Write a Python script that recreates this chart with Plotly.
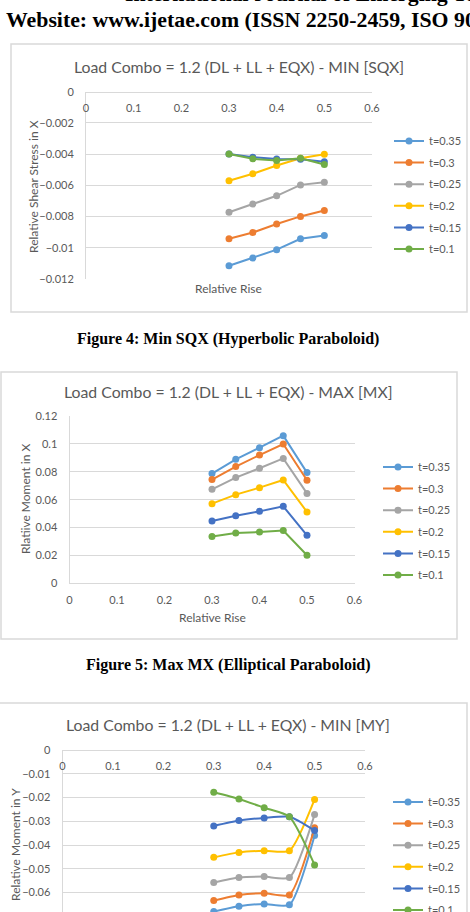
import plotly.graph_objects as go

# ---------------- data ----------------
x_rise = [0.3, 0.35, 0.4, 0.45, 0.5]
series_names = ["t=0.35", "t=0.3", "t=0.25", "t=0.2", "t=0.15", "t=0.1"]
series_colors = ["#5B9BD5", "#ED7D31", "#A5A5A5", "#FFC000", "#4472C4", "#70AD47"]

# Figure 4: Min SQX
sqx_values = [
    [-0.01115, -0.01066, -0.01012, -0.00942, -0.00921],
    [-0.00942, -0.00902, -0.00848, -0.00799, -0.00761],
    [-0.00772, -0.00720, -0.00667, -0.00597, -0.00580],
    [-0.00571, -0.00526, -0.00473, -0.00426, -0.00401],
    [-0.00399, -0.00420, -0.00431, -0.00433, -0.00448],
    [-0.00399, -0.00430, -0.00441, -0.00426, -0.00467],
]
# Figure 5: Max MX
mx_values = [
    [0.0787, 0.0889, 0.0973, 0.1059, 0.0794],
    [0.0744, 0.0837, 0.0920, 0.0999, 0.0739],
    [0.0674, 0.0758, 0.0825, 0.0896, 0.0645],
    [0.0571, 0.0636, 0.0686, 0.0741, 0.0512],
    [0.0447, 0.0485, 0.0516, 0.0552, 0.0344],
    [0.0335, 0.0361, 0.0368, 0.0378, 0.0201],
]
# Figure 6: Min MY
my_values = [
    [-0.0680, -0.0658, -0.0648, -0.0652, -0.0360],
    [-0.0634, -0.0610, -0.0603, -0.0610, -0.0327],
    [-0.0558, -0.0537, -0.0533, -0.0537, -0.0272],
    [-0.0452, -0.0431, -0.0424, -0.0424, -0.0208],
    [-0.0320, -0.0297, -0.0286, -0.0281, -0.0339],
    [-0.0178, -0.0206, -0.0243, -0.0281, -0.0484],
]

chart_titles = [
    "Load Combo = 1.2 (DL + LL + EQX) - MIN [SQX]",
    "Load Combo = 1.2 (DL + LL + EQX) - MAX [MX]",
    "Load Combo = 1.2 (DL + LL + EQX) - MIN [MY]",
]
y_titles = ["Relative Shear Stress in X", "Rlatiive Moment in X", "Relative Moment in Y"]
x_title = "Relative Rise"
captions = ["Figure 4: Min SQX (Hyperbolic Paraboloid)", "Figure 5: Max MX (Elliptical Paraboloid)"]

# ---------------- layout helpers ----------------
W, H = 470, 912


def px(v):
    return v / W


def py(v):
    return 1 - v / H


GRID = "#D9D9D9"
TXT = "#595959"
FONT = "Lato"

fig = go.Figure()

charts = [
    (sqx_values, "x", "y", "legend", "linear"),
    (mx_values, "x2", "y2", "legend2", "linear"),
    (my_values, "x3", "y3", "legend3", "spline"),
]
for ci, (vals, xa, ya, lg, shape) in enumerate(charts):
    for i, name in enumerate(series_names):
        fig.add_trace(go.Scatter(
            x=x_rise, y=vals[i], name=name, mode="lines+markers",
            line=dict(color=series_colors[i], width=2, shape=shape, smoothing=0.6),
            marker=dict(color=series_colors[i], size=7),
            xaxis=xa, yaxis=ya, legend=lg, legendgroup=f"{lg}_{i}",
            cliponaxis=False,
        ))

tickfont = dict(family=FONT, size=11, color=TXT)
common_x = dict(range=[0, 0.6], dtick=0.1, tick0=0, showgrid=False, zeroline=False,
                showline=True, linecolor=GRID, linewidth=1, ticks="", tickfont=tickfont,
                ticklabelstandoff=6, fixedrange=True)
common_y = dict(showgrid=True, gridcolor=GRID, gridwidth=1, zeroline=False,
                showline=True, linecolor=GRID, linewidth=1, ticks="", tickfont=tickfont,
                ticklabelstandoff=9, fixedrange=True)

legend_common = dict(bgcolor="rgba(0,0,0,0)", font=dict(family=FONT, size=11, color=TXT),
                     xanchor="left", yanchor="top", tracegroupgap=2.6, itemwidth=30)

fig.update_layout(
    width=W, height=H, margin=dict(l=0, r=0, t=0, b=0, autoexpand=False),
    paper_bgcolor="white", plot_bgcolor="white",
    showlegend=True,
    # chart 1
    xaxis=dict(domain=[px(86), px(372)], anchor="free", position=py(91.7), **common_x),
    yaxis=dict(domain=[py(279), py(91.7)], range=[-0.012, 0], dtick=0.002, anchor="x", **common_y),
    # chart 2
    xaxis2=dict(domain=[px(69.5), px(354.5)], anchor="y2", **common_x),
    yaxis2=dict(domain=[py(583.3), py(416)], range=[0, 0.12], dtick=0.02, anchor="x2", **common_y),
    # chart 3
    xaxis3=dict(domain=[px(62.5), px(365)], anchor="free", position=py(750), **common_x),
    yaxis3=dict(domain=[0, py(750)], range=[-0.0682, 0], dtick=0.01, anchor="x3", **common_y),
    legend=dict(x=px(389), y=py(126.5), **legend_common),
    legend2=dict(x=px(378), y=py(452.5), **legend_common),
    legend3=dict(x=px(388), y=py(787.5), **legend_common),
)

# chart frames
for (x0, y0, x1, y1) in [(11, 44, 467, 312), (1, 372, 457, 639), (-2, 703, 467, 930)]:
    fig.add_shape(type="rect", xref="paper", yref="paper",
                  x0=px(x0), x1=px(x1), y0=py(y1), y1=py(y0),
                  line=dict(color=GRID, width=1.5), layer="below")

ann = []
# page header
ann.append(dict(text="<b>International Journal of Emerging Technology and Advanced Engineering</b>",
                x=px(123), y=py(-6.2), xanchor="left", yanchor="middle",
                font=dict(family="Liberation Serif", size=21.8, color="black")))
ann.append(dict(text="<b>Website: www.ijetae.com (ISSN 2250-2459, ISO 9001:2008 Certified Journal</b>",
                x=px(4), y=py(20), xanchor="left", yanchor="middle",
                font=dict(family="Liberation Serif", size=21.8, color="black")))
# chart titles
for t, (cx, cy) in zip(chart_titles, [(239, 66), (228, 391), (228, 724)]):
    ann.append(dict(text=t, x=px(cx), y=py(cy), xanchor="center", yanchor="middle",
                    font=dict(family=FONT, size=15.8, color=TXT)))
# y titles
for t, (cx, cy) in zip(y_titles, [(33, 187), (25, 499), (15, 845)]):
    ann.append(dict(text=t, x=px(cx), y=py(cy), xanchor="center", yanchor="middle", textangle=-90,
                    font=dict(family=FONT, size=12, color=TXT)))
# x titles
for (cx, cy) in [(228, 288), (212, 617)]:
    ann.append(dict(text=x_title, x=px(cx), y=py(cy), xanchor="center", yanchor="middle",
                    font=dict(family=FONT, size=12, color=TXT)))
# captions
for t, (cx, cy) in zip(captions, [(228, 339), (228, 665)]):
    ann.append(dict(text="<b>" + t + "</b>", x=px(cx), y=py(cy), xanchor="center", yanchor="middle",
                    font=dict(family="Liberation Serif", size=16, color="black")))

for a in ann:
    a.update(xref="paper", yref="paper", showarrow=False)
fig.update_layout(annotations=ann)

fig.write_html("out.html")
